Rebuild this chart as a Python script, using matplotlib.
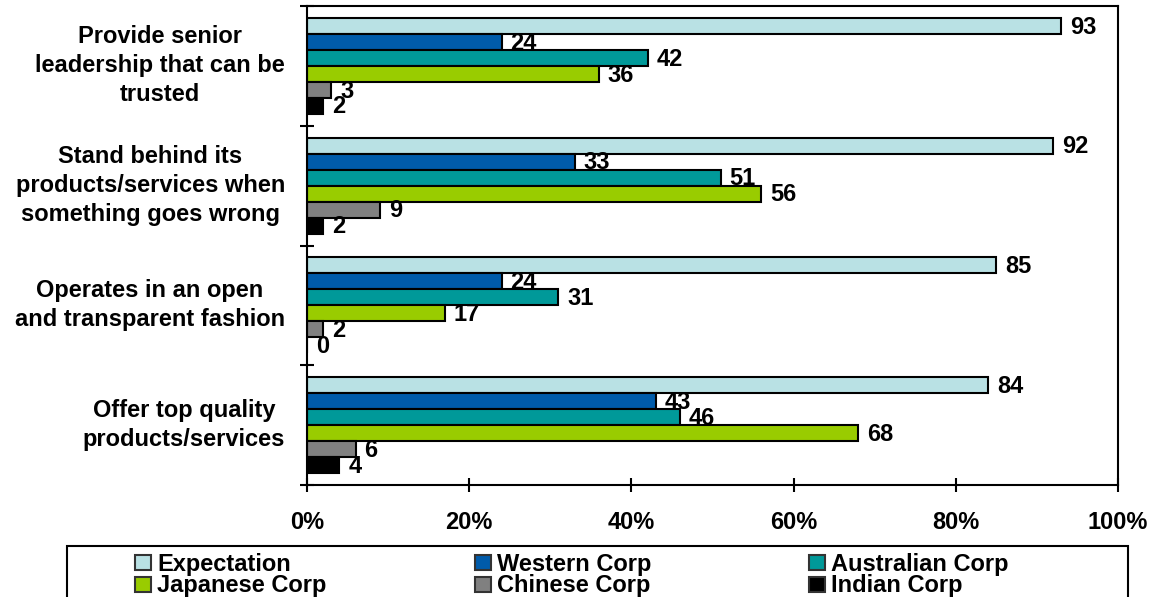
import numpy as np
import matplotlib
matplotlib.use("Agg")
import matplotlib.pyplot as plt
from matplotlib.patches import Patch, Rectangle
from matplotlib.transforms import blended_transform_factory

plt.rcParams['font.family'] = ['Liberation Sans', 'DejaVu Sans']
plt.rcParams['font.weight'] = 'bold'

categories = [
    "Provide senior\nleadership that can be\ntrusted",
    "Stand behind its\nproducts/services when\nsomething goes wrong",
    "Operates in an open\nand transparent fashion",
    "Offer top quality\nproducts/services",
]
series_names = ["Expectation", "Western Corp", "Australian Corp",
                "Japanese Corp", "Chinese Corp", "Indian Corp"]
expectation = [93, 92, 85, 84]
western = [24, 33, 24, 43]
australian = [42, 51, 31, 46]
japanese = [36, 56, 17, 68]
chinese = [3, 9, 2, 6]
indian = [2, 2, 0, 4]
x_tick_labels = ["0%", "20%", "40%", "60%", "80%", "100%"]

series_values = [expectation, western, australian, japanese, chinese, indian]
colors = ["#B9E1E4", "#005BAA", "#009999", "#99CC00", "#808080", "#000000"]

FS = 17
W, H = 1160, 597

fig = plt.figure(figsize=(W / 100, H / 100), dpi=100)
ax = fig.add_axes([307 / W, 1 - 485 / H, (1118 - 307) / W, (485 - 6) / H])

n_series = len(series_names)
bar_h = 0.8 / n_series
group_pos = np.arange(len(categories))
for i, (name, vals, col) in enumerate(zip(series_names, series_values, colors)):
    y = group_pos - 0.4 + bar_h * (i + 0.5)
    ax.barh(y, vals, height=bar_h, color=col, edgecolor="black", linewidth=1.5, label=name)
    for yy, v in zip(y, vals):
        ax.text(v + 1.1, yy + 0.01, f"{v}", va="center", ha="left",
                fontsize=FS, fontweight="bold")

ax.set_xlim(0, 100)
ax.set_ylim(len(categories) - 0.5, -0.5)
ax.set_xticks(np.arange(0, 101, 20))
ax.set_xticklabels(x_tick_labels, fontsize=FS, fontweight="bold")
ax.tick_params(axis="x", direction="inout", length=10, width=1.5, pad=14)

ax.set_yticks(np.arange(-0.5, len(categories), 1.0))
ax.set_yticklabels([])
ax.tick_params(axis="y", direction="inout", length=10, width=1.5)

for s in ax.spines.values():
    s.set_linewidth(1.5)

# category names, right-aligned block with centred lines
cat_tf = blended_transform_factory(fig.transFigure, ax.transData)
for yy, cat in zip(group_pos, categories):
    ax.text(285 / W, yy, cat, transform=cat_tf,
            ha="right", va="center", multialignment="center",
            fontsize=FS, fontweight="bold", linespacing=1.33)

# legend: outer frame plus three columns of two entries each
fig.add_artist(Rectangle((67 / W, -0.05), (1128 - 67) / W, 0.05 + 1 - 546 / H,
                         transform=fig.transFigure, facecolor="white",
                         edgecolor="black", linewidth=1.5, zorder=1))
handles = [Patch(facecolor=c, edgecolor="#333333", linewidth=1.5) for c in colors]
col_x = [135, 475, 809]
for k, x0 in enumerate(col_x):
    idx = [k, k + 3]
    leg = fig.legend([handles[j] for j in idx], [series_names[j] for j in idx],
                     loc="upper left", bbox_to_anchor=(x0 / W, 1 - 553 / H),
                     frameon=False, prop={"size": FS, "weight": "bold"},
                     handlelength=0.68, handleheight=0.6, handletextpad=0.25,
                     labelspacing=-0.07, borderpad=0, borderaxespad=0)
    leg.set_zorder(2)

fig.savefig("out.png", dpi=100)
